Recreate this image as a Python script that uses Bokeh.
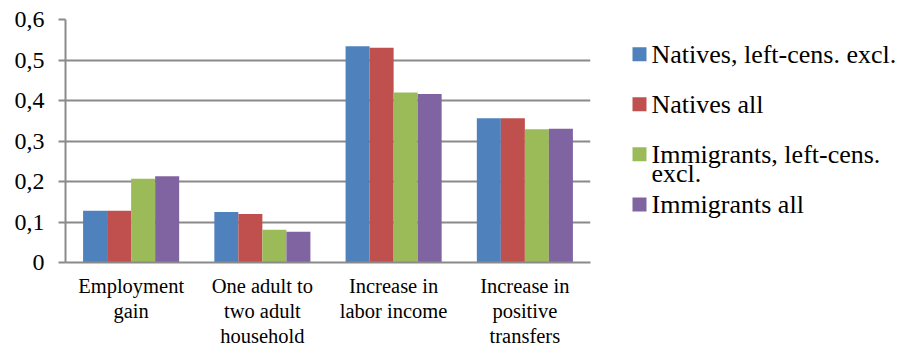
from bokeh.plotting import figure
from bokeh.layouts import row
from bokeh.models import (ColumnDataSource, Range1d, FixedTicker, LinearAxis,
                          CustomJSTickFormatter)
from bokeh.core.properties import value
from bokeh.embed import file_html
from bokeh.resources import INLINE

# Outcome categories and their printed (line-broken) labels
categories = ["Employment gain", "One adult to two adult household",
              "Increase in labor income", "Increase in positive transfers"]
category_labels = [["Employment", "gain"],
                   ["One adult to", "two adult", "household"],
                   ["Increase in", "labor income"],
                   ["Increase in", "positive", "transfers"]]

# Series values per category
natives_excl = [0.128, 0.125, 0.534, 0.356]
natives_all = [0.128, 0.120, 0.530, 0.356]
immigrants_excl = [0.207, 0.081, 0.420, 0.329]
immigrants_all = [0.213, 0.076, 0.416, 0.330]

series_names = [["Natives, left-cens. excl."], ["Natives all"],
                ["Immigrants, left-cens.", "excl."], ["Immigrants all"]]
series_values = [natives_excl, natives_all, immigrants_excl, immigrants_all]
series_colors = ["#4F81BD", "#C0504D", "#9BBB59", "#8064A2"]

y_ticks = [0, 0.1, 0.2, 0.3, 0.4, 0.5, 0.6]
y_tick_labels = ["0", "0,1", "0,2", "0,3", "0,4", "0,5", "0,6"]

FONT = "Liberation Serif"
GRID = "#8A8A8A"

# picks the text belonging to the nearest tick value
NEAREST_JS = """
    let best = 0;
    for (let i = 0; i < tick_vals.length; i++) {
        if (Math.abs(tick_vals[i] - tick) < Math.abs(tick_vals[best] - tick)) best = i;
    }
    return tick_texts[best];
"""

n_cat = len(categories)
centers = [i + 0.5 for i in range(n_cat)]

p = figure(x_range=Range1d(0, n_cat), y_range=Range1d(0, 0.6),
           width=600, height=364,
           min_border_left=65, min_border_right=10,
           min_border_top=19, min_border_bottom=102,
           output_backend="svg", toolbar_location=None)

# four bars per category, side by side around the category centre
bar_w = 0.183
for k, (vals, col) in enumerate(zip(series_values, series_colors)):
    off = (k - 1.5) * bar_w
    src = ColumnDataSource(dict(x=[c + off for c in centers], top=vals))
    p.vbar(x="x", top="top", width=bar_w, source=src,
           fill_color=col, line_color=None)

p.outline_line_color = None
p.xgrid.grid_line_color = None
p.ygrid.grid_line_color = GRID
p.ygrid.grid_line_width = 2
p.ygrid.ticker = FixedTicker(ticks=y_ticks)

# y axis with decimal-comma labels
p.yaxis.ticker = FixedTicker(ticks=y_ticks)
p.yaxis.formatter = CustomJSTickFormatter(
    args=dict(tick_vals=y_ticks, tick_texts=y_tick_labels), code=NEAREST_JS)
p.yaxis.major_label_text_font = FONT
p.yaxis.major_label_text_font_size = "24px"
p.yaxis.major_label_text_color = "black"
p.yaxis.axis_line_color = GRID
p.yaxis.axis_line_width = 2
p.yaxis.major_tick_line_color = GRID
p.yaxis.major_tick_line_width = 2
p.yaxis.major_tick_out = 7
p.yaxis.major_tick_in = 0
p.yaxis.minor_tick_line_color = None
p.yaxis.major_label_standoff = 14


def style_category_axis(ax, line_idx, standoff, show_line):
    """One stacked axis per label line: axis j shows line j of each category."""
    line_texts = [lines[line_idx] if line_idx < len(lines) else ""
                  for lines in category_labels]
    ax.ticker = FixedTicker(ticks=centers)
    ax.formatter = CustomJSTickFormatter(
        args=dict(tick_vals=centers, tick_texts=line_texts), code=NEAREST_JS)
    ax.major_label_text_font = FONT
    ax.major_label_text_font_size = "20.5px"
    ax.major_label_text_color = "black"
    ax.major_label_standoff = standoff
    ax.major_tick_line_color = None
    ax.minor_tick_line_color = None
    ax.major_tick_out = 0
    ax.major_tick_in = 0
    ax.axis_line_color = GRID if show_line else None
    ax.axis_line_width = 2


style_category_axis(p.xaxis[0], 0, 12, True)
n_lines = max(len(l) for l in category_labels)
for j in range(1, n_lines):
    extra = LinearAxis()
    style_category_axis(extra, j, 0, False)
    p.add_layout(extra, "below")

# Legend panel drawn in pixel space next to the chart
leg_w, leg_h = 308, 364
lg = figure(width=leg_w, height=leg_h, x_range=Range1d(0, leg_w),
            y_range=Range1d(leg_h, 0), output_backend="svg",
            toolbar_location=None, min_border=0)
lg.axis.visible = False
lg.grid.visible = False
lg.outline_line_color = None

first_y, step, line_pitch = 52, 75, 28.5
sq_x, text_x = 39, 51
sq_src = ColumnDataSource(dict(
    x=[sq_x] * len(series_names),
    y=[first_y + i * step for i in range(len(series_names))],
    color=series_colors,
))
lg.rect(x="x", y="y", width=14, height=14, width_units="screen",
        height_units="screen", fill_color="color", line_color=None, source=sq_src)

tx, ty, tt = [], [], []
for i, lines in enumerate(series_names):
    for j, line in enumerate(lines):
        tx.append(text_x)
        ty.append(first_y + i * step + j * line_pitch)
        tt.append(line)
lg.text(x=tx, y=ty, text=tt, text_font=value(FONT), text_font_size="26px",
        text_baseline="middle", text_align="left", text_color="black")

layout = row(p, lg)
open("out.html", "w").write(file_html(layout, INLINE))
